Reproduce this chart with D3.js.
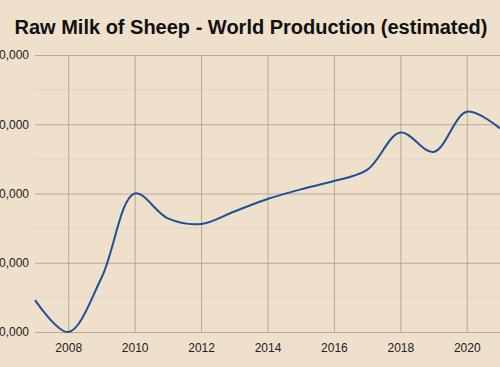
<!DOCTYPE html>
<html>
<head>
<meta charset="utf-8">
<script src="https://cdn.jsdelivr.net/npm/d3@7"></script>
<style>
	html, body { margin: 0; padding: 0; background: #efe0cb; }
	svg { display: block; }
</style>
</head>
<body>
<div id="chart"></div>
<script>
// annÃ©es et production (tonnes, estimÃ©e)
const years = [2007, 2008, 2009, 2010, 2011, 2012, 2013, 2014, 2015, 2016, 2017, 2018, 2019, 2020, 2021];
const production = [9230000, 9000000, 9390000, 10000000, 9820000, 9780000, 9870000, 9960000, 10030000, 10090000, 10170000, 10440000, 10300000, 10590000, 10470000];
const xTicks = [2008, 2010, 2012, 2014, 2016, 2018, 2020];
const yTicks = [9000000, 9500000, 10000000, 10500000, 11000000];
const yMinor = [9250000, 9750000, 10250000, 10750000];
const title = "Raw Milk of Sheep - World Production (estimated)";

let width = 500, height = 367;
let margin = {top: 55, right: 0, bottom: 35, left: 35};

let svg = d3.select("#chart").append("svg")
	.attr("width", width)
	.attr("height", height)
	.style("font-family", "Arial, 'Liberation Sans', sans-serif");

svg.append("rect")
	.attr("width", width)
	.attr("height", height)
	.attr("fill", "#efe0cb");

let x = d3.scaleLinear([2007, 2021], [margin.left, width - margin.right]);
let y = d3.scaleLinear([9000000, 11000000], [height - margin.bottom, margin.top]);

// grille secondaire
svg.append("g")
	.selectAll("line")
	.data(yMinor)
	.join("line")
	.attr("x1", margin.left)
	.attr("x2", width - margin.right)
	.attr("y1", d => y(d))
	.attr("y2", d => y(d))
	.attr("stroke", "#dcd3c8")
	.attr("stroke-width", 1);

// grille principale
svg.append("g")
	.attr("transform", `translate(0,${height - margin.bottom})`)
	.call(d3.axisBottom(x).tickValues(xTicks).tickFormat(d3.format("d")).tickSize(-(height - margin.top - margin.bottom)).tickSizeOuter(0))
	.call(g => g.select(".domain").attr("stroke", "#b9a996"))
	.call(g => g.selectAll(".tick line").attr("stroke", "#b9a996"))
	.call(g => g.selectAll("text")
		.attr("fill", "#222")
		.attr("font-size", 12)
		.attr("dy", "1.4em"));

// les Ã©tiquettes de gauche dÃ©passent du cadre, comme dans l'original
svg.append("g")
	.attr("transform", `translate(${margin.left},0)`)
	.call(d3.axisLeft(y).tickValues(yTicks).tickFormat(d3.format(",")).tickSize(-(width - margin.left - margin.right)))
	.call(g => g.select(".domain").remove())
	.call(g => g.selectAll(".tick line").attr("stroke", "#b9a996"))
	.call(g => g.selectAll("text")
		.attr("fill", "#222")
		.attr("font-size", 12)
		.attr("x", -6));

let line = d3.line()
	.x((d, i) => x(years[i]))
	.y(d => y(d))
	.curve(d3.curveCatmullRom);

svg.append("path")
	.datum(production)
	.attr("fill", "none")
	.attr("stroke", "#1f4f98")
	.attr("stroke-width", 2)
	.attr("d", line);

svg.append("text")
	.attr("x", width / 2 + 1)
	.attr("y", 34)
	.attr("text-anchor", "middle")
	.attr("font-size", 20)
	.attr("font-weight", "bold")
	.attr("fill", "#111")
	.text(title);
</script>
</body>
</html>
